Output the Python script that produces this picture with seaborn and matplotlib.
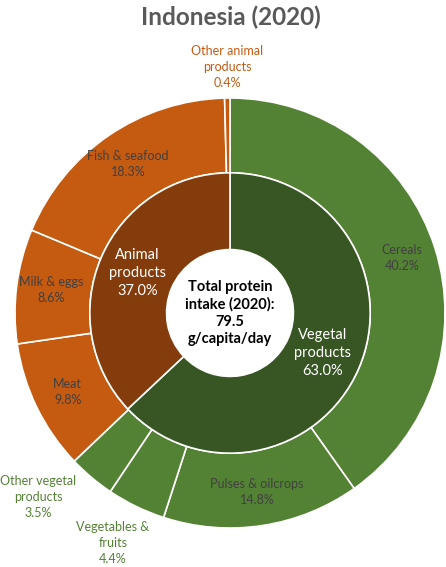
import numpy as np
import matplotlib
matplotlib.use('Agg')
import matplotlib.pyplot as plt
import seaborn as sns

# Data (share of total protein intake, %)
groups = ['Vegetal\nproducts', 'Animal\nproducts']
group_values = [63.0, 37.0]

items = ['Cereals', 'Pulses & oilcrops', 'Vegetables &\nfruits', 'Other vegetal\nproducts',
         'Meat', 'Milk & eggs', 'Fish & seafood', 'Other animal\nproducts']
item_values = [40.2, 14.8, 4.4, 3.5, 9.8, 8.6, 18.3, 0.4]
item_group = [0, 0, 0, 0, 1, 1, 1, 1]
outside = [False, False, True, True, False, False, False, True]

center_text = 'Total protein\nintake (2020):\n79.5\ng/capita/day'

sns.set_theme(style='white')
plt.rcParams['font.family'] = ['Lato', 'DejaVu Sans']

inner_cols = ['#375623', '#843C0C']
outer_cols = ['#548235', '#C55A11']
text_grey = '#595959'

fig = plt.figure(figsize=(4.46, 5.67), dpi=100)
R = 215
cx, cy = 230, 567 - 313
ax = fig.add_axes([(cx - R) / 446, (cy - R) / 567, 2 * R / 446, 2 * R / 567])
ax.set_aspect('equal')

w_out, _ = ax.pie(item_values, radius=1.0, startangle=90, counterclock=False,
                  colors=[outer_cols[g] for g in item_group],
                  wedgeprops=dict(width=1.0 - 0.652, edgecolor='white', linewidth=1.2))
w_in, _ = ax.pie(group_values, radius=0.652, startangle=90, counterclock=False,
                 colors=inner_cols,
                 wedgeprops=dict(width=0.652 - 0.295, edgecolor='white', linewidth=1.2))
ax.set_xlim(-1, 1)
ax.set_ylim(-1, 1)

# outer labels (outside ones: radius, angle shift)
out_pos = {2: (1.20, -1.1), 3: (1.237, -6), 7: (1.145, 0)}
for i, w in enumerate(w_out):
    mid = (w.theta1 + w.theta2) / 2
    txt = f'{items[i]}\n{item_values[i]:.1f}%'
    if outside[i]:
        r, shift = out_pos[i]
        col = outer_cols[item_group[i]]
    else:
        r, shift = 0.84, 0
        col = '#404040'
    ang = np.deg2rad(mid + shift)
    ax.text(r * np.cos(ang), r * np.sin(ang), txt, ha='center', va='center',
            fontsize=9, color=col, linespacing=1.4, clip_on=False)

# inner labels
for i, w in enumerate(w_in):
    ang = np.deg2rad((w.theta1 + w.theta2) / 2)
    r = 0.47
    ax.text(r * np.cos(ang), r * np.sin(ang), f'{groups[i]}\n{group_values[i]:.1f}%',
            ha='center', va='center', fontsize=10.5, color='white', linespacing=1.35)

ax.text(0, 0, center_text, ha='center', va='center', fontsize=10.5,
        fontweight='bold', color='black', linespacing=1.3)

fig.text(231 / 446, 1 - 17 / 567, 'Indonesia (2020)', ha='center', va='center',
         fontsize=17.5, fontweight='bold', color=text_grey)

fig.savefig('out.png', dpi=100)
